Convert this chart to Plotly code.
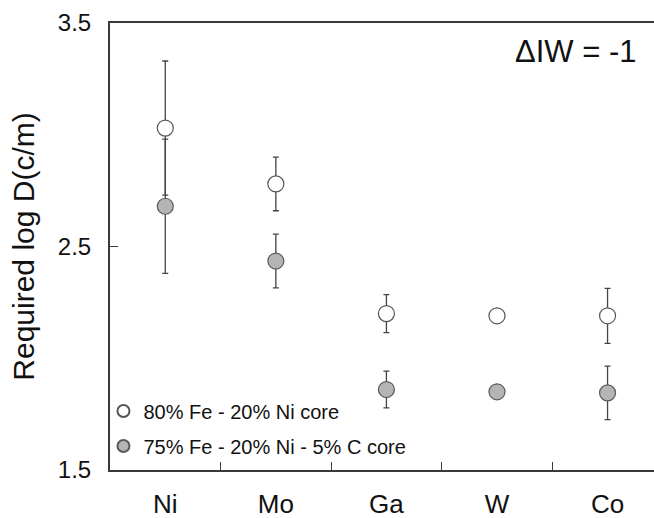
import plotly.graph_objects as go

elements = ["Ni", "Mo", "Ga", "W", "Co"]
fe_ni_vals = [3.03, 2.78, 2.20, 2.19, 2.19]
fe_ni_err = [0.30, 0.12, 0.085, 0.0, 0.123]
fe_ni_c_vals = [2.68, 2.435, 1.86, 1.85, 1.845]
fe_ni_c_err = [0.30, 0.12, 0.082, 0.0, 0.12]

series_names = ["80% Fe - 20% Ni core", "75% Fe - 20% Ni - 5% C core"]
annotation_text = "ΔIW = -1"
y_title = "Required log D(c/m)"

FONT = "Liberation Sans, Arial, sans-serif"
AX = "#3a3a3a"

fig = go.Figure()
fig.add_trace(go.Scatter(
    x=elements, y=fe_ni_vals, mode="markers", name=series_names[0],
    legendgroup="a",
    marker=dict(size=16, color="white", line=dict(color="#555555", width=1.2)),
    error_y=dict(type="data", array=fe_ni_err, visible=True, color="#444444",
                 thickness=1.3, width=3),
))
fig.add_trace(go.Scatter(
    x=elements, y=fe_ni_c_vals, mode="markers", name=series_names[1],
    legendgroup="b",
    marker=dict(size=16, color="#b4b4b4", line=dict(color="#5a5a5a", width=1.2)),
    error_y=dict(type="data", array=fe_ni_c_err, visible=True, color="#444444",
                 thickness=1.3, width=3),
))

fig.update_layout(
    width=654, height=518,
    margin=dict(l=110, r=0, t=23, b=48),
    paper_bgcolor="white", plot_bgcolor="white",
    font=dict(family=FONT, color="#111111"),
    showlegend=True,
    legend=dict(
        x=-0.012, y=0.01, xanchor="left", yanchor="bottom",
        bgcolor="rgba(0,0,0,0)", font=dict(size=20, family=FONT),
        itemsizing="constant", traceorder="grouped", tracegroupgap=6,
    ),
    xaxis=dict(
        type="category", range=[-0.5, 4.42], tickson="boundaries",
        ticks="inside", ticklen=8, tickcolor=AX, tickwidth=1.3,
        showline=True, linecolor=AX, linewidth=2, mirror=True,
        showgrid=False, zeroline=False,
        tickfont=dict(size=26, family=FONT, color="#111111"),
        ticklabelstandoff=10,
    ),
    yaxis=dict(
        range=[1.5, 3.5], dtick=1, tick0=1.5, tickformat=".1f",
        ticks="inside", ticklen=8, tickcolor=AX, tickwidth=1.3,
        showline=True, linecolor=AX, linewidth=2,
        showgrid=False, zeroline=False,
        tickfont=dict(size=24, family=FONT, color="#111111"),
        ticklabelstandoff=12,
        title=dict(text=y_title, font=dict(size=30, family=FONT, color="#111111"), standoff=14),
    ),
    annotations=[dict(
        text=annotation_text, xref="paper", yref="paper",
        x=0.97, y=0.937, xanchor="right", yanchor="middle",
        showarrow=False, font=dict(size=31, family=FONT, color="#111111"),
    )],
)

fig.write_html("out.html")
